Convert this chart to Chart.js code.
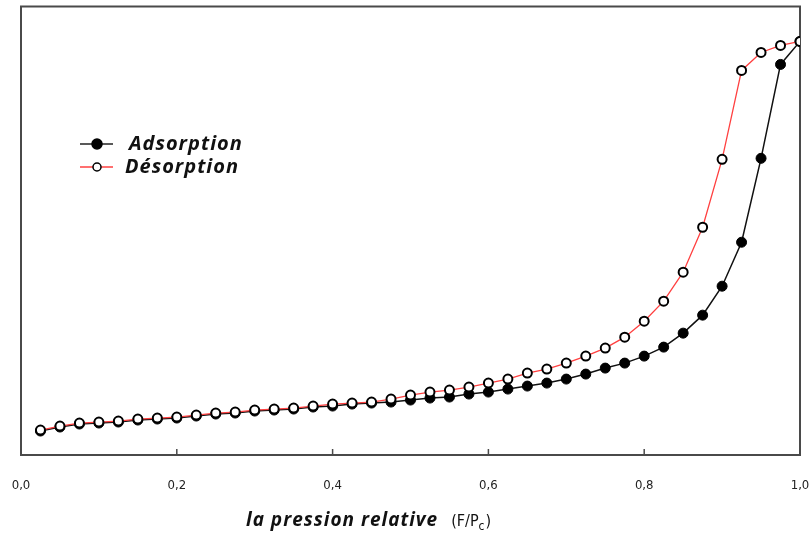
<!DOCTYPE html>
<html>
<head>
<meta charset="utf-8">
<script src="https://cdn.jsdelivr.net/npm/chart.js@4"></script>
<style>
  html, body { margin: 0; padding: 0; background: #fff; }
  #wrap { width: 812px; height: 533px; }
</style>
</head>
<body>
<div id="wrap"><canvas id="isotherme"></canvas></div>
<script>
// pression relative P/P0
const pression = [0.025, 0.05, 0.075, 0.1, 0.125, 0.15, 0.175, 0.2, 0.225, 0.25,
  0.275, 0.3, 0.325, 0.35, 0.375, 0.4, 0.425, 0.45, 0.475, 0.5,
  0.525, 0.55, 0.575, 0.6, 0.625, 0.65, 0.675, 0.7, 0.725, 0.75,
  0.775, 0.8, 0.825, 0.85, 0.875, 0.9, 0.925, 0.95, 0.975, 1.0];

// volume adsorbe (unites arbitraires)
const adsorption = [24, 28, 31, 32, 33, 35, 36, 37, 39, 41,
  42, 44, 45, 46, 48, 49, 51, 52, 53, 55,
  57, 58, 61, 63, 66, 69, 72, 76, 81, 87,
  92, 99, 108, 122, 140, 169, 213, 297, 391, 414];

const desorption = [25, 29, 32, 33, 34, 36, 37, 38, 40, 42,
  43, 45, 46, 47, 49, 51, 52, 53, 56, 60,
  63, 65, 68, 72, 76, 82, 86, 92, 99, 107,
  118, 134, 154, 183, 228, 296, 385, 403, 410, 414];

const xTicks = [0, 0.2, 0.4, 0.6, 0.8, 1.0];

const toPts = ys => ys.map((y, i) => ({ x: pression[i], y: y }));

const decor = {
  id: 'decor',
  beforeDatasetsDraw(chart) {
    const { ctx, chartArea: a, scales: { x } } = chart;
    ctx.save();
    ctx.strokeStyle = '#4a4a4a';
    ctx.lineWidth = 2;
    ctx.strokeRect(a.left, a.top, a.right - a.left, a.bottom - a.top);
    // petites graduations vers l'interieur
    ctx.lineWidth = 1.5;
    xTicks.forEach(v => {
      const px = x.getPixelForValue(v);
      ctx.beginPath();
      ctx.moveTo(px, a.bottom);
      ctx.lineTo(px, a.bottom - 6);
      ctx.stroke();
    });
    ctx.restore();
  },
  afterDraw(chart) {
    const { ctx } = chart;
    ctx.save();
    // legende
    const rows = [
      { y: 144, line: '#222', fill: '#000', r: 5, label: 'Adsorption', tx: 129 },
      { y: 167, line: '#ff4040', fill: '#fff', r: 4, label: 'Désorption', tx: 125 }
    ];
    rows.forEach(r => {
      ctx.strokeStyle = r.line;
      ctx.lineWidth = 1.5;
      ctx.beginPath();
      ctx.moveTo(80, r.y);
      ctx.lineTo(113, r.y);
      ctx.stroke();
      ctx.beginPath();
      ctx.arc(97, r.y, r.r, 0, Math.PI * 2);
      ctx.fillStyle = r.fill;
      ctx.fill();
      ctx.strokeStyle = '#000';
      ctx.lineWidth = 1.5;
      ctx.stroke();
      ctx.fillStyle = '#111';
      ctx.font = 'italic bold 20px "Open Sans"';
      ctx.letterSpacing = '1px';
      ctx.textBaseline = 'middle';
      ctx.fillText(r.label, r.tx, r.y);
    });
    // titre de l'axe x
    ctx.textBaseline = 'alphabetic';
    ctx.fillStyle = '#111';
    ctx.font = 'italic bold 19px "Open Sans"';
    ctx.letterSpacing = '1px';
    const t = 'la pression relative';
    ctx.fillText(t, 246, 526);
    let px = 246 + ctx.measureText(t).width + 13;
    ctx.letterSpacing = '0px';
    ctx.font = '16px "DejaVu Sans Condensed"';
    ctx.fillText('(F/P', px, 526);
    px += ctx.measureText('(F/P').width;
    ctx.font = '12px "DejaVu Sans Condensed"';
    ctx.fillText('c', px, 530);
    px += ctx.measureText('c').width + 1;
    ctx.font = '16px "DejaVu Sans Condensed"';
    ctx.fillText(')', px, 526);
    ctx.restore();
  }
};

new Chart(document.getElementById('isotherme'), {
  type: 'line',
  data: {
    datasets: [
      {
        label: 'Désorption',
        data: toPts(desorption),
        borderColor: '#ff4040',
        borderWidth: 1.3,
        pointRadius: 4.5,
        pointBorderWidth: 2,
        pointBorderColor: '#000',
        pointBackgroundColor: '#fff',
        tension: 0,
        order: 0
      },
      {
        label: 'Adsorption',
        data: toPts(adsorption),
        borderColor: '#111',
        borderWidth: 1.5,
        pointRadius: 5,
        pointBorderWidth: 1,
        pointBorderColor: '#000',
        pointBackgroundColor: '#000',
        tension: 0,
        order: 1
      }
    ]
  },
  options: {
    responsive: true,
    maintainAspectRatio: false,
    animation: false,
    layout: { padding: { left: 21, right: 12, top: 6, bottom: 0 } },
    plugins: { legend: { display: false }, tooltip: { enabled: false } },
    scales: {
      x: {
        type: 'linear',
        min: 0,
        max: 1,
        afterFit: s => { s.height = 78; s.paddingLeft = 0; s.paddingRight = 0; },
        afterBuildTicks: s => { s.ticks = xTicks.map(v => ({ value: v })); },
        grid: { display: false, drawTicks: false },
        border: { display: false },
        ticks: {
          padding: 23,
          color: '#222',
          font: { family: '"DejaVu Sans Condensed"', size: 13 },
          callback: v => v.toFixed(1).replace('.', ',')
        }
      },
      y: {
        display: false,
        min: 0,
        max: 449
      }
    }
  },
  plugins: [decor]
});
</script>
</body>
</html>
